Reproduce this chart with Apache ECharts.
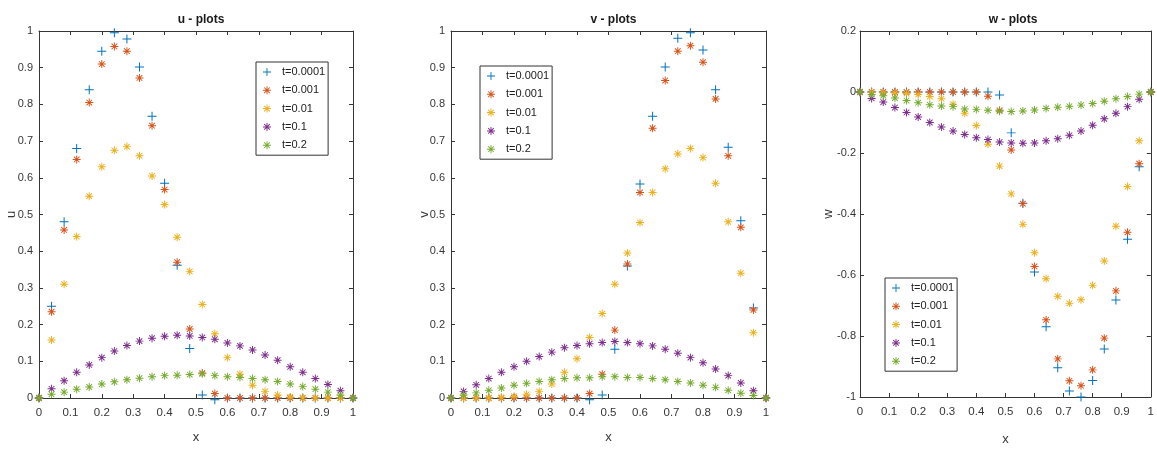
<!DOCTYPE html>
<html>
<head>
<meta charset="utf-8">
<title>u, v, w plots</title>
<script src="https://cdn.jsdelivr.net/npm/echarts@6/dist/echarts.min.js"></script>
<style>
  html, body { margin: 0; padding: 0; background: #ffffff; }
  #chart { width: 1157px; height: 451px; }
</style>
</head>
<body>
<div id="chart"></div>
<script>
// Spatial grid points
const xs = [0, 0.04, 0.08, 0.12, 0.16, 0.2, 0.24, 0.28, 0.32, 0.36, 0.4, 0.44, 0.48,
            0.52, 0.56, 0.6, 0.64, 0.68, 0.72, 0.76, 0.8, 0.84, 0.88, 0.92, 0.96, 1];

const seriesNames = ['t=0.0001', 't=0.001', 't=0.01', 't=0.1', 't=0.2'];
const seriesColors = ['#0072BD', '#D95319', '#EDB120', '#7E2F8E', '#77AC30'];

// Tick values
const xTicks = [0, 0.1, 0.2, 0.3, 0.4, 0.5, 0.6, 0.7, 0.8, 0.9, 1];
const uvTicks = [0, 0.1, 0.2, 0.3, 0.4, 0.5, 0.6, 0.7, 0.8, 0.9, 1];
const wTicks = [-1, -0.8, -0.6, -0.4, -0.2, 0, 0.2];

// u component
const uT0001 = [0, 0.25, 0.48, 0.68, 0.84, 0.945, 0.995, 0.978, 0.902, 0.768, 0.585, 0.362, 0.135,
                0.008, -0.005, 0, 0, 0, 0, 0, 0, 0, 0, 0, 0, 0];
const uT001  = [0, 0.235, 0.458, 0.65, 0.805, 0.91, 0.958, 0.945, 0.872, 0.742, 0.568, 0.37, 0.188,
                0.068, 0.012, 0, 0, 0, 0, 0, 0, 0, 0, 0, 0, 0];
const uT01   = [0, 0.158, 0.31, 0.44, 0.55, 0.63, 0.675, 0.685, 0.66, 0.605, 0.527, 0.438, 0.345,
                0.255, 0.175, 0.11, 0.065, 0.035, 0.018, 0.008, 0.003, 0.001, 0, 0, 0, 0];
const uT1    = [0, 0.025, 0.047, 0.07, 0.09, 0.11, 0.128, 0.143, 0.155, 0.163, 0.168, 0.171, 0.169,
                0.165, 0.16, 0.15, 0.142, 0.131, 0.117, 0.103, 0.085, 0.07, 0.053, 0.037, 0.02, 0];
const uT2    = [0, 0.01, 0.016, 0.024, 0.03, 0.038, 0.044, 0.05, 0.054, 0.058, 0.061, 0.062, 0.064,
                0.066, 0.061, 0.058, 0.056, 0.053, 0.05, 0.045, 0.038, 0.031, 0.024, 0.016, 0.008, 0];

// v component
const vT0001 = [0, 0, 0, 0, 0, 0, 0, 0, 0, 0, 0, -0.005, 0.008,
                0.133, 0.36, 0.583, 0.768, 0.902, 0.98, 0.995, 0.948, 0.84, 0.683, 0.483, 0.245, 0];
const vT001  = [0, 0, 0, 0, 0, 0, 0, 0, 0, 0, 0, 0.012, 0.065,
                0.185, 0.365, 0.56, 0.735, 0.865, 0.945, 0.96, 0.915, 0.815, 0.66, 0.465, 0.24, 0];
const vT01   = [0, 0, 0, 0, 0.002, 0.005, 0.01, 0.018, 0.038, 0.07, 0.107, 0.165, 0.23,
                0.31, 0.395, 0.478, 0.56, 0.625, 0.665, 0.68, 0.655, 0.585, 0.48, 0.34, 0.178, 0];
const vT1    = [0, 0.018, 0.036, 0.053, 0.07, 0.085, 0.1, 0.113, 0.125, 0.137, 0.143, 0.148, 0.151,
                0.154, 0.151, 0.148, 0.142, 0.133, 0.122, 0.11, 0.096, 0.079, 0.061, 0.041, 0.02, 0];
const vT2    = [0, 0.008, 0.014, 0.021, 0.027, 0.035, 0.04, 0.045, 0.05, 0.053, 0.055, 0.055, 0.058,
                0.058, 0.056, 0.056, 0.053, 0.05, 0.045, 0.041, 0.035, 0.029, 0.021, 0.013, 0.007, 0];

// w component
const wT0001 = [0, 0, 0, 0, 0, 0, 0, 0, 0, 0, 0, 0, -0.01,
                -0.134, -0.365, -0.59, -0.77, -0.904, -0.98, -1.0, -0.946, -0.843, -0.682, -0.483, -0.245, 0];
const wT001  = [0, 0, 0, 0, 0, 0, 0, 0, 0, 0, 0, -0.014, -0.06,
                -0.19, -0.366, -0.572, -0.747, -0.875, -0.947, -0.963, -0.911, -0.807, -0.652, -0.46, -0.235, 0];
const wT01   = [0, -0.002, -0.003, -0.003, -0.005, -0.008, -0.015, -0.022, -0.04, -0.07, -0.11, -0.171, -0.243,
                -0.334, -0.434, -0.527, -0.612, -0.67, -0.693, -0.681, -0.634, -0.554, -0.44, -0.31, -0.16, 0];
const wT1    = [0, -0.021, -0.033, -0.051, -0.067, -0.082, -0.1, -0.115, -0.128, -0.139, -0.15, -0.156, -0.164,
                -0.167, -0.168, -0.167, -0.16, -0.153, -0.142, -0.128, -0.109, -0.088, -0.07, -0.048, -0.024, 0];
const wT2    = [0, -0.008, -0.012, -0.02, -0.028, -0.035, -0.042, -0.046, -0.048, -0.056, -0.057, -0.06, -0.063,
                -0.064, -0.062, -0.059, -0.054, -0.05, -0.047, -0.043, -0.038, -0.03, -0.022, -0.015, -0.007, 0];

const FONT = "'Liberation Sans Narrow', 'Liberation Sans', Arial, sans-serif";
const INK = '#363636';

// Marker shapes drawn as thin filled bars: a plus, and a plus overlaid with a cross
const PLUS = 'path://M0,4.45H10V5.55H0Z M4.45,0H5.55V10H4.45Z';
const STAR = 'path://M0,4.4H10V5.6H0Z M4.4,0H5.6V10H4.4Z ' +
             'M1.92,1.08L8.92,8.08L8.08,8.92L1.08,1.92Z ' +
             'M1.92,8.92L1.08,8.08L8.08,1.08L8.92,1.92Z';

const panels = [
  { title: 'u - plots', yName: 'u', yTicks: uvTicks, values: [uT0001, uT001, uT01, uT1, uT2],
    grid: { left: 39, top: 31, width: 314, height: 367 }, nameGapX: 33, nameGapY: 21,
    labelMargin: 6, legend: { left: 256, top: 62 } },
  { title: 'v - plots', yName: 'v', yTicks: uvTicks, values: [vT0001, vT001, vT01, vT1, vT2],
    grid: { left: 451, top: 31, width: 315, height: 367 }, nameGapX: 33, nameGapY: 20,
    labelMargin: 6, legend: { left: 480, top: 66 } },
  { title: 'w - plots', yName: 'w', yTicks: wTicks, values: [wT0001, wT001, wT01, wT1, wT2],
    grid: { left: 860, top: 31, width: 296, height: 374 }, nameGapX: 36, nameGapY: 25,
    labelMargin: 4, legend: { left: 885, top: 278 } }
];

const step = arr => +(arr[1] - arr[0]).toFixed(6);

const grids = [], xAxes = [], yAxes = [], titles = [], legends = [], series = [];

panels.forEach((p, pi) => {
  grids.push(Object.assign({ containLabel: false }, p.grid));

  titles.push({
    text: p.title,
    left: p.grid.left + p.grid.width / 2,
    top: 9,
    textAlign: 'center',
    textStyle: { fontFamily: FONT, fontSize: 12, fontWeight: 'bold', color: '#1a1a1a' }
  });

  const lineStyle = { color: INK, width: 1 };
  const tickStyle = { inside: true, length: 4, lineStyle: { color: INK, width: 1 } };

  // bottom x axis with labels
  xAxes.push({
    type: 'value', gridIndex: pi, position: 'bottom',
    min: xTicks[0], max: xTicks[xTicks.length - 1], interval: step(xTicks),
    name: 'x', nameLocation: 'middle', nameGap: p.nameGapX, nameMoveOverlap: false,
    nameTextStyle: { fontFamily: FONT, fontSize: 13, color: INK },
    axisLine: { show: true, onZero: false, lineStyle },
    axisTick: tickStyle,
    axisLabel: { fontFamily: FONT, fontSize: 11.5, color: INK, margin: 9 },
    splitLine: { show: false }
  });
  // top x axis: frame and ticks only
  xAxes.push({
    type: 'value', gridIndex: pi, position: 'top',
    min: xTicks[0], max: xTicks[xTicks.length - 1], interval: step(xTicks),
    axisLine: { show: true, onZero: false, lineStyle },
    axisTick: tickStyle, axisLabel: { show: false }, splitLine: { show: false }
  });
  // left y axis with labels
  yAxes.push({
    type: 'value', gridIndex: pi, position: 'left',
    min: p.yTicks[0], max: p.yTicks[p.yTicks.length - 1], interval: step(p.yTicks),
    name: p.yName, nameLocation: 'middle', nameGap: p.nameGapY, nameRotate: 90,
    nameMoveOverlap: false,
    nameTextStyle: { fontFamily: FONT, fontSize: 13, color: INK },
    axisLine: { show: true, onZero: false, lineStyle },
    axisTick: tickStyle,
    axisLabel: { fontFamily: FONT, fontSize: 11, color: INK, margin: p.labelMargin },
    splitLine: { show: false }
  });
  // right y axis: frame and ticks only
  yAxes.push({
    type: 'value', gridIndex: pi, position: 'right',
    min: p.yTicks[0], max: p.yTicks[p.yTicks.length - 1], interval: step(p.yTicks),
    axisLine: { show: true, onZero: false, lineStyle },
    axisTick: tickStyle, axisLabel: { show: false }, splitLine: { show: false }
  });

  legends.push({
    orient: 'vertical',
    left: p.legend.left, top: p.legend.top,
    padding: [3, 3, 3, 7],
    itemWidth: 20, itemHeight: 8, itemGap: 4.3,
    backgroundColor: '#ffffff',
    borderColor: '#333333', borderWidth: 1, borderRadius: 0,
    textStyle: { fontFamily: FONT, fontSize: 11, lineHeight: 14, color: '#222222' },
    data: seriesNames.map((n, k) => ({
      name: n,
      icon: k === 0 ? PLUS : STAR,
      itemStyle: { color: seriesColors[k] }
    }))
  });

  p.values.forEach((vals, k) => {
    series.push({
      type: 'scatter',
      name: seriesNames[k],
      xAxisIndex: pi * 2,
      yAxisIndex: pi * 2,
      symbol: k === 0 ? PLUS : STAR,
      symbolSize: k === 0 ? 9 : 8,
      clip: false,
      itemStyle: { color: seriesColors[k], opacity: 1 },
      emphasis: { disabled: true },
      data: xs.map((x, i) => [x, vals[i]])
    });
  });
});

const chart = echarts.init(document.getElementById('chart'), null, { renderer: 'canvas' });
chart.setOption({
  backgroundColor: '#ffffff',
  animation: false,
  title: titles,
  legend: legends,
  grid: grids,
  xAxis: xAxes,
  yAxis: yAxes,
  series: series
});
</script>
</body>
</html>
